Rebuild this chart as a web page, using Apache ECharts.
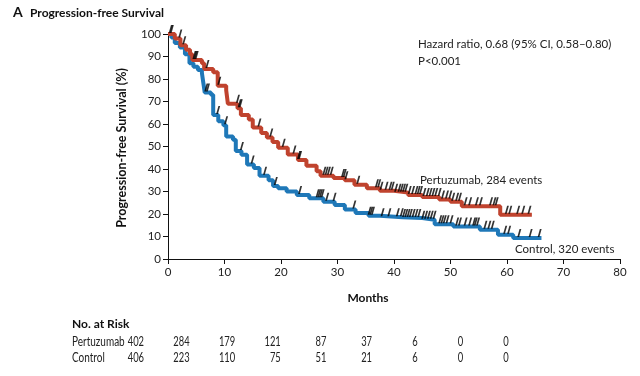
<!DOCTYPE html>
<html>
<head>
<meta charset="utf-8">
<script src="https://cdn.jsdelivr.net/npm/echarts@6/dist/echarts.min.js"></script>
<style>
html,body{margin:0;padding:0;background:#fff;}
#chart{width:640px;height:376px;}
</style>
</head>
<body>
<div id="chart"></div>
<script>
// ---------- data ----------
var pertuzumabCurve = [[0,100],[1.2,98],[2.2,95],[3.2,93],[3.9,91],[4.3,88.5],[6.0,87],[6.4,84.5],[8.0,83],[8.8,77],[10.3,75],[10.6,69],[12.3,67],[12.9,64],[14.3,62],[15.0,58.5],[16.5,56],[17.5,54],[18.5,52],[19.5,49.5],[21.2,46.5],[23.0,44],[24.5,41.5],[26.3,39],[27.0,37],[29.3,36],[31.3,35],[33.0,33],[35.2,31.5],[37.5,30.3],[40,29.5],[42.5,28.5],[45,27.6],[48,26.5],[50,25.5],[52,23.4],[58.8,19.7],[64.4,19.7]];
var controlCurve = [[0,100],[0.6,98.5],[1.2,96],[2.1,94],[3.0,91],[3.8,87],[4.5,85.5],[5.3,84],[6.0,82.7],[6.3,77.5],[6.5,74],[7.6,73],[8.0,64],[8.9,61.2],[9.8,59.5],[10.3,54.5],[11.5,53],[12.0,48],[13.0,46.3],[14.0,42],[15.2,40.5],[16.2,37],[17.8,35],[18.6,32.5],[19.5,31.5],[21,30],[22.8,28.5],[25,27],[27.5,25.5],[29.5,24],[31.3,22],[33.2,20.5],[35.5,19.2],[37.5,18.6],[41.5,18.2],[45,17.4],[47.2,15.5],[50.5,14.5],[55.2,13],[58.4,10.8],[61.1,9.3],[66.1,9.3]];
var pertuzumabCensor = [0.3,2.0,2.7,4.5,4.7,4.9,6.8,8.9,12.2,12.5,12.7,16.0,18.1,20.3,22.2,23.0,23.2,27.5,27.9,28.3,28.8,30.8,31.1,31.4,33.5,36.8,37.2,37.6,38.5,39.2,39.6,40.2,40.8,41.2,41.6,42.0,42.6,43.2,43.8,44.2,44.6,45.2,45.8,46.3,46.8,47.3,47.9,48.5,49.2,49.8,50.3,51.0,51.5,52.5,53.3,54.5,55.2,57.0,57.6,58.0,59.8,60.4,61.8,62.7,63.8];
var controlCensor = [0.5,6.6,6.9,8.7,10.1,12.9,14.8,17.0,18.9,23.2,26.3,26.6,26.9,27.2,28.0,29.3,32.8,35.5,35.8,36.1,37.8,39.0,40.5,41.2,41.6,42.0,42.4,42.8,43.3,43.8,44.3,45.0,45.5,46.0,46.5,47.0,48.0,48.4,48.8,49.3,50.0,51.0,51.5,52.5,53.3,54.0,54.3,54.7,56.0,56.7,57.3,59.5,60.2,62.0,64.0,65.6];
var riskGroups = ['Pertuzumab','Control'];
var riskPertuzumab = [402,284,179,121,87,37,6,0,0];
var riskControl = [406,223,110,75,51,21,6,0,0];
var xTicks = [0,10,20,30,40,50,60,70,80];
var yTicks = [0,10,20,30,40,50,60,70,80,90,100];

// step lookup of curve value at censor time
function stepValue(curve, t){
  var v = curve[0][1];
  for (var i=0;i<curve.length;i++){ if (curve[i][0] <= t) v = curve[i][1]; else break; }
  return v;
}
function censorPoints(curve, times){ return times.map(function(t){ return [t, stepValue(curve,t)]; }); }

// ---------- chart ----------
var RED = '#c0432e', BLUE = '#1f78b8';
var FONT = 'Lato';
var chart = echarts.init(document.getElementById('chart'), null, {renderer:'canvas'});
var tick = 'path://M2.6,0L4.6,0L2,10L0,10Z';

var graphics = [
  {type:'text', left:13, top:5, style:{text:'A', font:'bold 14px '+FONT, fill:'#111'}},
  {type:'text', left:30, top:7, style:{text:'Progression-free Survival', font:'bold 12px '+FONT, fill:'#111'}},
  {type:'text', x:122, y:148, rotation:Math.PI/2, style:{text:'Progression-free Survival (%)', font:'bold 12.5px '+FONT, fill:'#111', align:'center', verticalAlign:'middle'}},
  {type:'text', x:368, y:298, style:{text:'Months', font:'bold 12px '+FONT, fill:'#111', align:'center', verticalAlign:'middle'}},
  {type:'text', left:418, top:38, style:{text:'Hazard ratio, 0.68 (95% CI, 0.58\u20130.80)', font:'11.5px '+FONT, fill:'#222'}},
  {type:'text', left:418, top:55, style:{text:'P<0.001', font:'11.5px '+FONT, fill:'#222'}},
  {type:'text', left:420, top:174, style:{text:'Pertuzumab, 284 events', font:'11.5px '+FONT, fill:'#222'}},
  {type:'text', left:515, top:243, style:{text:'Control, 320 events', font:'11.5px '+FONT, fill:'#222'}},
  {type:'text', left:72, top:318, style:{text:'No. at Risk', font:'bold 12px '+FONT, fill:'#111'}}
];
var rowY = [342, 358];
var riskRows = [riskPertuzumab, riskControl];
riskGroups.forEach(function(g, r){
  graphics.push({type:'text', x:72, y:rowY[r], scaleX:0.8, style:{text:g, font:'12.5px '+FONT, fill:'#222', verticalAlign:'middle'}});
  riskRows[r].forEach(function(n, i){
    graphics.push({type:'text', x:144 + 45.6*i, y:rowY[r], scaleX:0.75, style:{text:String(n), font:'12.5px '+FONT, fill:'#222', align:'right', verticalAlign:'middle'}});
  });
});

var option = {
  backgroundColor:'#fff',
  animation:false,
  grid:{left:168, right:20, top:34, bottom:117, containLabel:false},
  xAxis:{type:'value', min:0, max:80, interval:10,
    axisLine:{show:true, onZero:false, lineStyle:{color:'#111', width:1}},
    axisTick:{show:true, length:5, lineStyle:{color:'#111'}},
    axisLabel:{color:'#222', fontFamily:FONT, fontSize:11.5, margin:7},
    splitLine:{show:false}},
  yAxis:{type:'value', min:0, max:100, interval:10,
    axisLine:{show:true, lineStyle:{color:'#111', width:1}},
    axisTick:{show:true, length:5, lineStyle:{color:'#111'}},
    axisLabel:{color:'#222', fontFamily:FONT, fontSize:11.5, margin:7},
    splitLine:{show:false}},
  graphic: graphics,
  series:[
    {type:'line', name:'Control', data:controlCurve, step:'end', showSymbol:false, lineStyle:{color:BLUE, width:4}, z:2},
    {type:'line', name:'Pertuzumab', data:pertuzumabCurve, step:'end', showSymbol:false, lineStyle:{color:RED, width:4}, z:3},
    {type:'scatter', data:censorPoints(controlCurve, controlCensor), symbol:tick, symbolSize:[4,8], symbolOffset:[1,-5], itemStyle:{color:'#000'}, z:5},
    {type:'scatter', data:censorPoints(pertuzumabCurve, pertuzumabCensor), symbol:tick, symbolSize:[4,8], symbolOffset:[1,-5], itemStyle:{color:'#000'}, z:5}
  ]
};
chart.setOption(option);
</script>
</body>
</html>
